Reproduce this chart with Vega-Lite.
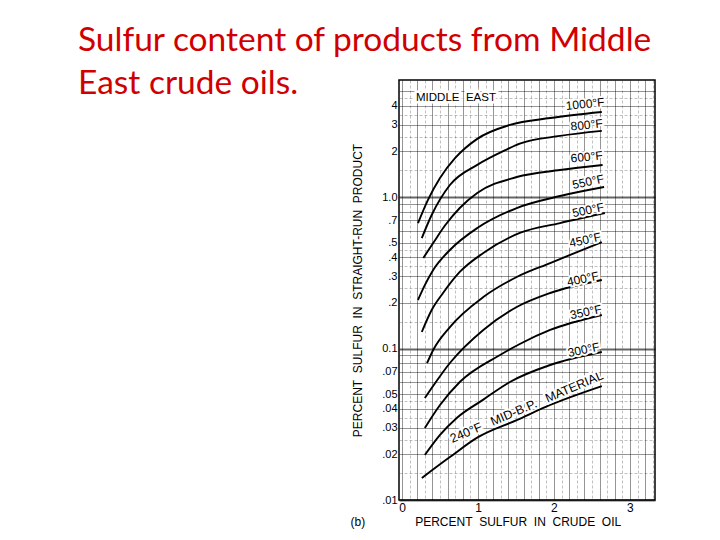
{
  "$schema": "https://vega.github.io/schema/vega-lite/v6.json",
  "autosize": "none",
  "padding": {"left": 399, "top": 80, "right": 65, "bottom": 40},
  "width": 256,
  "height": 420,
  "background": "white",
  "title": {
    "text": ["Sulfur content of products from Middle", "East crude oils."],
    "anchor": "start",
    "frame": "group",
    "orient": "top",
    "dx": -321,
    "dy": 47,
    "offset": 0,
    "font": "Lato",
    "fontSize": 33.5,
    "fontWeight": "normal",
    "lineHeight": 43,
    "color": "#d10000",
    "baseline": "alphabetic"
  },
  "config": {
    "view": {"stroke": "black", "strokeWidth": 1.5},
    "font": "Liberation Sans"
  },
  "datasets": {
    "curves": [
      {"series": "1000", "x": 0.21, "y": 0.673}, {"series": "1000", "x": 0.34, "y": 0.955}, {"series": "1000", "x": 0.50, "y": 1.335}, {"series": "1000", "x": 0.70, "y": 1.81}, {"series": "1000", "x": 0.99, "y": 2.42}, {"series": "1000", "x": 1.42, "y": 2.99}, {"series": "1000", "x": 1.95, "y": 3.32}, {"series": "1000", "x": 2.63, "y": 3.64},
      {"series": "800", "x": 0.26, "y": 0.536}, {"series": "800", "x": 0.39, "y": 0.761}, {"series": "800", "x": 0.63, "y": 1.20}, {"series": "800", "x": 0.99, "y": 1.63}, {"series": "800", "x": 1.36, "y": 2.04}, {"series": "800", "x": 1.55, "y": 2.25}, {"series": "800", "x": 2.08, "y": 2.53}, {"series": "800", "x": 2.63, "y": 2.73},
      {"series": "600", "x": 0.28, "y": 0.396}, {"series": "600", "x": 0.41, "y": 0.497}, {"series": "600", "x": 0.57, "y": 0.653}, {"series": "600", "x": 0.76, "y": 0.846}, {"series": "600", "x": 0.99, "y": 1.063}, {"series": "600", "x": 1.51, "y": 1.355}, {"series": "600", "x": 2.08, "y": 1.507}, {"series": "600", "x": 2.64, "y": 1.626},
      {"series": "550", "x": 0.21, "y": 0.209}, {"series": "550", "x": 0.30, "y": 0.262}, {"series": "550", "x": 0.41, "y": 0.330}, {"series": "550", "x": 0.63, "y": 0.447}, {"series": "550", "x": 0.99, "y": 0.624}, {"series": "550", "x": 1.51, "y": 0.846}, {"series": "550", "x": 2.08, "y": 1.015}, {"series": "550", "x": 2.66, "y": 1.164},
      {"series": "500", "x": 0.26, "y": 0.1285}, {"series": "500", "x": 0.39, "y": 0.1795}, {"series": "500", "x": 0.54, "y": 0.2325}, {"series": "500", "x": 0.76, "y": 0.320}, {"series": "500", "x": 1.07, "y": 0.427}, {"series": "500", "x": 1.55, "y": 0.579}, {"series": "500", "x": 2.08, "y": 0.673}, {"series": "500", "x": 2.67, "y": 0.784},
      {"series": "450", "x": 0.33, "y": 0.0802}, {"series": "450", "x": 0.41, "y": 0.0978}, {"series": "450", "x": 0.63, "y": 0.1386}, {"series": "450", "x": 1.07, "y": 0.2187}, {"series": "450", "x": 1.51, "y": 0.2965}, {"series": "450", "x": 1.95, "y": 0.3667}, {"series": "450", "x": 2.63, "y": 0.5045},
      {"series": "400", "x": 0.30, "y": 0.0471}, {"series": "400", "x": 0.39, "y": 0.0548}, {"series": "400", "x": 0.63, "y": 0.0802}, {"series": "400", "x": 1.07, "y": 0.1325}, {"series": "400", "x": 1.51, "y": 0.1879}, {"series": "400", "x": 1.95, "y": 0.2325}, {"series": "400", "x": 2.63, "y": 0.2833},
      {"series": "350", "x": 0.30, "y": 0.0299}, {"series": "350", "x": 0.50, "y": 0.0424}, {"series": "350", "x": 0.76, "y": 0.0601}, {"series": "350", "x": 1.29, "y": 0.0906}, {"series": "350", "x": 1.55, "y": 0.1071}, {"series": "350", "x": 1.95, "y": 0.1325}, {"series": "350", "x": 2.63, "y": 0.1664},
      {"series": "300", "x": 0.30, "y": 0.0198}, {"series": "300", "x": 0.50, "y": 0.0269}, {"series": "300", "x": 0.72, "y": 0.0348}, {"series": "300", "x": 1.07, "y": 0.046}, {"series": "300", "x": 1.42, "y": 0.0601}, {"series": "300", "x": 1.95, "y": 0.0778}, {"series": "300", "x": 2.63, "y": 0.0948},
      {"series": "240", "x": 0.26, "y": 0.01397}, {"series": "240", "x": 0.63, "y": 0.0192}, {"series": "240", "x": 1.00, "y": 0.026}, {"series": "240", "x": 1.51, "y": 0.0337}, {"series": "240", "x": 1.95, "y": 0.0424}, {"series": "240", "x": 2.63, "y": 0.0565}
    ]
  },
  "encoding": {
    "x": {
      "field": "x", "type": "quantitative",
      "scale": {"domain": [-0.04, 3.33], "nice": false, "zero": false},
      "axis": {
        "values": [0, 0.1, 0.2, 0.3, 0.4, 0.5, 0.6, 0.7, 0.8, 0.9, 1, 1.1, 1.2, 1.3, 1.4, 1.5, 1.6, 1.7, 1.8, 1.9, 2, 2.1, 2.2, 2.3, 2.4, 2.5, 2.6, 2.7, 2.8, 2.9, 3, 3.1, 3.2, 3.3],
        "labelExpr": "datum.value == 0 ? '0' : datum.value == 1 ? '1' : datum.value == 2 ? '2' : datum.value == 3 ? '3' : ''",
        "labelOverlap": false,
        "labelFlush": false,
        "labelFontSize": 12,
        "labelColor": "black",
        "labelPadding": 2,
        "ticks": false,
        "domain": false,
        "grid": true,
        "gridColor": "black",
        "gridWidth": 0.7,
        "gridOpacity": {"condition": {"test": "abs(datum.value * 5 - round(datum.value * 5)) < 0.001", "value": 0.6}, "value": 0.35},
        "gridDash": {"condition": {"test": "abs(datum.value * 5 - round(datum.value * 5)) < 0.001", "value": []}, "value": [3, 2]},
        "title": "(b)\u00a0\u00a0\u00a0\u00a0\u00a0\u00a0\u00a0\u00a0\u00a0\u00a0\u00a0\u00a0\u00a0\u00a0\u00a0PERCENT\u00a0\u00a0SULFUR\u00a0\u00a0IN\u00a0\u00a0CRUDE\u00a0\u00a0OIL",
        "titleFontSize": 12,
        "titleFontWeight": "normal",
        "titleColor": "black",
        "titleAnchor": "start",
        "titleX": -49,
        "titlePadding": 3
      }
    },
    "y": {
      "field": "y", "type": "quantitative",
      "scale": {"type": "log", "domain": [0.01, 5.92], "nice": false},
      "axis": {
        "values": [0.01, 0.015, 0.02, 0.025, 0.03, 0.035, 0.04, 0.045, 0.05, 0.06, 0.07, 0.08, 0.09, 0.1, 0.15, 0.2, 0.25, 0.3, 0.35, 0.4, 0.45, 0.5, 0.6, 0.7, 0.8, 0.9, 1, 1.5, 2, 2.5, 3, 3.5, 4, 4.5, 5],
        "labelExpr": "datum.value == 4 ? '4' : datum.value == 3 ? '3' : datum.value == 2 ? '2' : datum.value == 1 ? '1.0' : datum.value == 0.7 ? '.7' : datum.value == 0.5 ? '.5' : datum.value == 0.4 ? '.4' : datum.value == 0.3 ? '.3' : datum.value == 0.2 ? '.2' : datum.value == 0.1 ? '0.1' : datum.value == 0.07 ? '.07' : datum.value == 0.05 ? '.05' : datum.value == 0.04 ? '.04' : datum.value == 0.03 ? '.03' : datum.value == 0.02 ? '.02' : datum.value == 0.01 ? '.01' : ''",
        "labelOverlap": false,
        "labelFlush": false,
        "labelFontSize": 11,
        "labelColor": "black",
        "labelPadding": 2,
        "ticks": false,
        "domain": false,
        "grid": true,
        "gridColor": "black",
        "gridWidth": {"condition": {"test": "abs(log(datum.value) / LN10 - round(log(datum.value) / LN10)) < 0.000001", "value": 1.8}, "value": 0.7},
        "gridOpacity": {"condition": {"test": "abs(datum.value / pow(10, floor(log(datum.value) / LN10 + 0.000001)) - round(datum.value / pow(10, floor(log(datum.value) / LN10 + 0.000001)))) < 0.01", "value": 0.6}, "value": 0.35},
        "gridDash": {"condition": {"test": "abs(datum.value / pow(10, floor(log(datum.value) / LN10 + 0.000001)) - round(datum.value / pow(10, floor(log(datum.value) / LN10 + 0.000001)))) < 0.01", "value": []}, "value": [3, 2]},
        "title": "PERCENT\u00a0\u00a0SULFUR\u00a0\u00a0IN\u00a0\u00a0STRAIGHT-RUN\u00a0\u00a0PRODUCT",
        "titleFontSize": 12,
        "titleFontWeight": "normal",
        "titleColor": "black",
        "titlePadding": 17
      }
    }
  },
  "layer": [
    {
      "data": {"name": "curves"},
      "mark": {"type": "line", "color": "black", "strokeWidth": 1.9, "interpolate": "monotone"},
      "encoding": {"detail": {"field": "series"}}
    },
    {
      "data": {"values": [
        {"label": "1000°F", "x": 2.41, "y": 4.11},
        {"label": "800°F", "x": 2.43, "y": 2.99},
        {"label": "600°F", "x": 2.43, "y": 1.84}
      ]},
      "encoding": {"text": {"field": "label"}},
      "layer": [
        {"mark": {"type": "text", "angle": -6, "fontSize": 12, "stroke": "white", "strokeWidth": 4, "fill": "white"}},
        {"mark": {"type": "text", "angle": -6, "fontSize": 12, "color": "black"}}
      ]
    },
    {
      "data": {"values": [
        {"label": "550°F", "x": 2.45, "y": 1.26},
        {"label": "500°F", "x": 2.45, "y": 0.82},
        {"label": "450°F", "x": 2.41, "y": 0.52},
        {"label": "400°F", "x": 2.38, "y": 0.288},
        {"label": "350°F", "x": 2.42, "y": 0.174},
        {"label": "300°F", "x": 2.39, "y": 0.098}
      ]},
      "encoding": {"text": {"field": "label"}},
      "layer": [
        {"mark": {"type": "text", "angle": -12, "fontSize": 12, "stroke": "white", "strokeWidth": 4, "fill": "white"}},
        {"mark": {"type": "text", "angle": -12, "fontSize": 12, "color": "black"}}
      ]
    },
    {
      "data": {"values": [
        {"label": "240°F\u00a0\u00a0\u00a0MID-B.P.\u00a0\u00a0\u00a0MATERIAL", "x": 1.64, "y": 0.041}
      ]},
      "encoding": {"text": {"field": "label"}},
      "layer": [
        {"mark": {"type": "text", "angle": -23, "fontSize": 12.5, "stroke": "white", "strokeWidth": 4, "fill": "white"}},
        {"mark": {"type": "text", "angle": -23, "fontSize": 12.5, "color": "black"}}
      ]
    },
    {
      "data": {"values": [
        {"label": "MIDDLE\u00a0\u00a0EAST", "x": 0.71, "y": 4.5}
      ]},
      "encoding": {"text": {"field": "label"}},
      "layer": [
        {"mark": {"type": "text", "fontSize": 11.5, "stroke": "white", "strokeWidth": 5, "fill": "white"}},
        {"mark": {"type": "text", "fontSize": 11.5, "color": "black"}}
      ]
    }
  ]
}
